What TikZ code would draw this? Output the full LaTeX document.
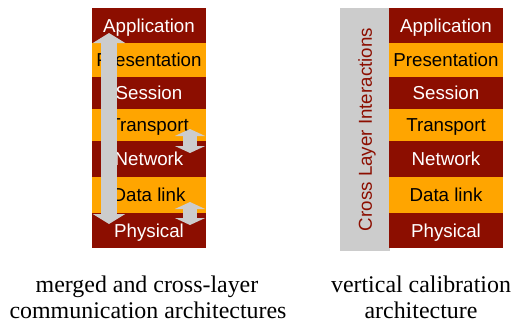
\documentclass[tikz,border=0pt]{standalone}
\usepackage{fontspec}
\setmainfont{Liberation Serif}
\newfontfamily\laysans{Liberation Sans}
\usetikzlibrary{arrows.meta}
\definecolor{layred}{RGB}{140,14,0}
\definecolor{layorange}{RGB}{255,165,0}
\definecolor{laygray}{RGB}{204,204,204}
\tikzset{
  layer/.style={draw=none, inner sep=0pt, outer sep=0pt, minimum width=114bp,
    text height=13.5bp, text depth=0bp,
    font=\laysans\fontsize{18.8}{20}\selectfont},
  redlayer/.style={layer, fill=layred, text=white},
  orangelayer/.style={layer, fill=layorange, text=black},
  bigarrow/.style={draw=laygray, line width=16bp,
    {Triangle[width=32bp,length=10bp]}-{Triangle[width=32bp,length=10bp]}},
  smallarrow/.style={draw=laygray, line width=14bp,
    {Triangle[width=30bp,length=7bp]}-{Triangle[width=30bp,length=7bp]}},
  caption/.style={font=\fontsize{24}{28}\selectfont, anchor=base, inner sep=0pt},
}
\begin{document}
\begin{tikzpicture}[x=1bp,y=-1bp]
\useasboundingbox (0,0) rectangle (511,324);
% ---------- left stack ----------
\node[redlayer, minimum height=35bp] (LApp) at (149,25.5) {Application};
\node[orangelayer, minimum height=34bp] (LPre) at (149,60) {Presentation};
\node[redlayer, minimum height=32bp] (LSes) at (149,93) {Session};
\node[orangelayer, minimum height=32bp] (LTra) at (149,125) {Transport};
\node[redlayer, minimum height=36bp] (LNet) at (149,159) {Network};
\node[orangelayer, minimum height=36bp] (LDat) at (149,195) {Data link};
\node[redlayer, minimum height=35bp] (LPhy) at (149,230.5) {Physical};
% arrows over left stack
\coordinate (bigtop) at (109,33);
\coordinate (bigbot) at (109,224);
\draw[bigarrow] (bigtop) -- (bigbot);
\coordinate (s1top) at (190,129);
\coordinate (s1bot) at (190,153);
\draw[smallarrow] (s1top) -- (s1bot);
\coordinate (s2top) at (190,202);
\coordinate (s2bot) at (190,225);
\draw[smallarrow] (s2top) -- (s2bot);
% ---------- right stack ----------
\node[fill=laygray, inner sep=0pt, minimum width=50bp, minimum height=243bp] (cross) at (365,129.5) {};
\node[rotate=90, text=layred, font=\laysans\fontsize{18.8}{20}\selectfont, inner sep=0pt,
  text height=13.5bp, text depth=0bp] (crosstext) at (cross.center) {Cross Layer Interactions};
\node[redlayer, minimum height=35bp] (RApp) at (446,25.5) {Application};
\node[orangelayer, minimum height=34bp] (RPre) at (446,60) {Presentation};
\node[redlayer, minimum height=32bp] (RSes) at (446,93) {Session};
\node[orangelayer, minimum height=32bp] (RTra) at (446,125) {Transport};
\node[redlayer, minimum height=36bp] (RNet) at (446,159) {Network};
\node[orangelayer, minimum height=36bp] (RDat) at (446,195) {Data link};
\node[redlayer, minimum height=35bp] (RPhy) at (446,230.5) {Physical};
% ---------- captions ----------
\node[caption] (capL1) at (147,292) {merged and cross-layer};
\node[caption] (capL2) at (148,318.5) {communication architectures};
\node[caption] (capR1) at (421,292) {vertical calibration};
\node[caption] (capR2) at (421,318.5) {architecture};
\end{tikzpicture}
\end{document}
